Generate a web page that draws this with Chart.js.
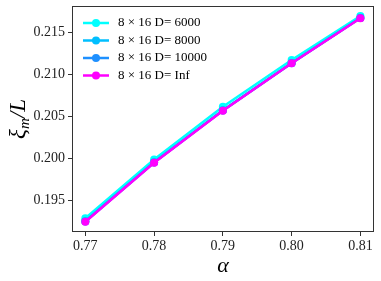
<!DOCTYPE html>
<html><head><meta charset="utf-8">
<script src="https://cdn.jsdelivr.net/npm/chart.js@4/dist/chart.umd.min.js"></script>
<style>html,body{margin:0;padding:0;background:#fff}#wrap{width:381px;height:281px}</style>
</head><body><div id="wrap"><canvas id="c" width="381" height="281"></canvas></div>
<script>
const alphas = [0.77, 0.78, 0.79, 0.80, 0.81];
const d6000  = [0.19282, 0.19984, 0.20614, 0.21172, 0.21697];
const d8000  = [0.19246, 0.19950, 0.20570, 0.21136, 0.21673];
const d10000 = [0.19244, 0.19948, 0.20568, 0.21134, 0.21672];
const dInf   = [0.19241, 0.19945, 0.20566, 0.21132, 0.21670];
const labels = ['8 \u00d7 16 D= 6000', '8 \u00d7 16 D= 8000', '8 \u00d7 16 D= 10000', '8 \u00d7 16 D= Inf'];
const colors = ['#00ffff', '#00bfff', '#1e90ff', '#ff00ff'];
const xTicks = [0.77, 0.78, 0.79, 0.80, 0.81];
const yTicks = [0.195, 0.200, 0.205, 0.210, 0.215];
const series = [d6000, d8000, d10000, dInf];
const SERIF = "'Liberation Serif', 'DejaVu Serif', serif";

const datasets = series.map((s, i) => ({
  label: labels[i],
  data: s.map((v, j) => ({x: alphas[j], y: v})),
  borderColor: colors[i], backgroundColor: colors[i],
  borderWidth: 2.5, pointRadius: 4, pointHoverRadius: 4,
  pointBorderWidth: 0, order: 4 - i, tension: 0
}));

const frame = {
  id: 'frame',
  afterDraw(chart) {
    const {ctx, chartArea: a} = chart;
    ctx.save();
    ctx.strokeStyle = '#333'; ctx.lineWidth = 1;
    ctx.strokeRect(a.left + 0.5, a.top + 0.5, a.right - a.left - 1, a.bottom - a.top - 1);
    // legend
    ctx.font = '13px ' + SERIF;
    ctx.textBaseline = 'middle';
    labels.forEach((t, i) => {
      const y = a.top + 17 + i * 17.5;
      const x0 = a.left + 11, x1 = a.left + 37;
      ctx.strokeStyle = colors[i]; ctx.lineWidth = 2.5;
      ctx.beginPath(); ctx.moveTo(x0, y); ctx.lineTo(x1, y); ctx.stroke();
      ctx.fillStyle = colors[i];
      ctx.beginPath(); ctx.arc((x0 + x1) / 2, y, 4, 0, Math.PI * 2); ctx.fill();
      ctx.fillStyle = '#000';
      ctx.fillText(t, a.left + 46, y);
    });
    // axis titles
    ctx.fillStyle = '#000';
    ctx.textBaseline = 'alphabetic';
    ctx.font = 'italic 22px ' + SERIF;
    ctx.textAlign = 'center';
    ctx.fillText('\u03b1', (a.left + a.right) / 2, 272);
    ctx.save();
    ctx.translate(25, (a.top + a.bottom) / 2);
    ctx.rotate(-Math.PI / 2);
    ctx.textAlign = 'left';
    const p1 = '\u03be', p2 = 'm', p3 = '/L';
    ctx.font = 'italic 23px ' + SERIF; const w1 = ctx.measureText(p1).width;
    ctx.font = 'italic 15px ' + SERIF; const w2 = ctx.measureText(p2).width;
    ctx.font = 'italic 23px ' + SERIF; const w3 = ctx.measureText(p3).width;
    let x = -(w1 + w2 + w3) / 2;
    ctx.font = 'italic 23px ' + SERIF; ctx.fillText(p1, x, 0); x += w1;
    ctx.font = 'italic 15px ' + SERIF; ctx.fillText(p2, x, 4); x += w2;
    ctx.font = 'italic 23px ' + SERIF; ctx.fillText(p3, x, 0);
    ctx.restore();
    ctx.restore();
  }
};

new Chart(document.getElementById('c'), {
  type: 'line',
  data: {datasets},
  plugins: [frame],
  options: {
    responsive: false, animation: false, devicePixelRatio: 1,
    layout: {padding: {top: 6, right: 7, left: 0, bottom: 0}},
    plugins: {legend: {display: false}, tooltip: {enabled: false}},
    scales: {
      x: {
        type: 'linear', min: 0.76806, max: 0.81198,
        afterBuildTicks: s => { s.ticks = xTicks.map(v => ({value: v})); },
        afterFit: s => { s.height = 49; s.paddingLeft = 0; s.paddingRight = 0; },
        grid: {display: true, drawOnChartArea: false, tickLength: 4, color: '#333'},
        border: {display: false},
        ticks: {color: '#222', font: {family: SERIF, size: 14}, padding: 2,
          callback: v => v.toFixed(2), maxRotation: 0, autoSkip: false}
      },
      y: {
        type: 'linear', min: 0.19118, max: 0.21816,
        afterBuildTicks: s => { s.ticks = yTicks.map(v => ({value: v})); },
        afterFit: s => { s.width = 72; s.paddingTop = 0; s.paddingBottom = 0; },
        grid: {display: true, drawOnChartArea: false, tickLength: 4, color: '#333'},
        border: {display: false},
        ticks: {color: '#222', font: {family: SERIF, size: 14}, padding: 3,
          callback: v => v.toFixed(3), autoSkip: false}
      }
    }
  }
});
</script></body></html>
